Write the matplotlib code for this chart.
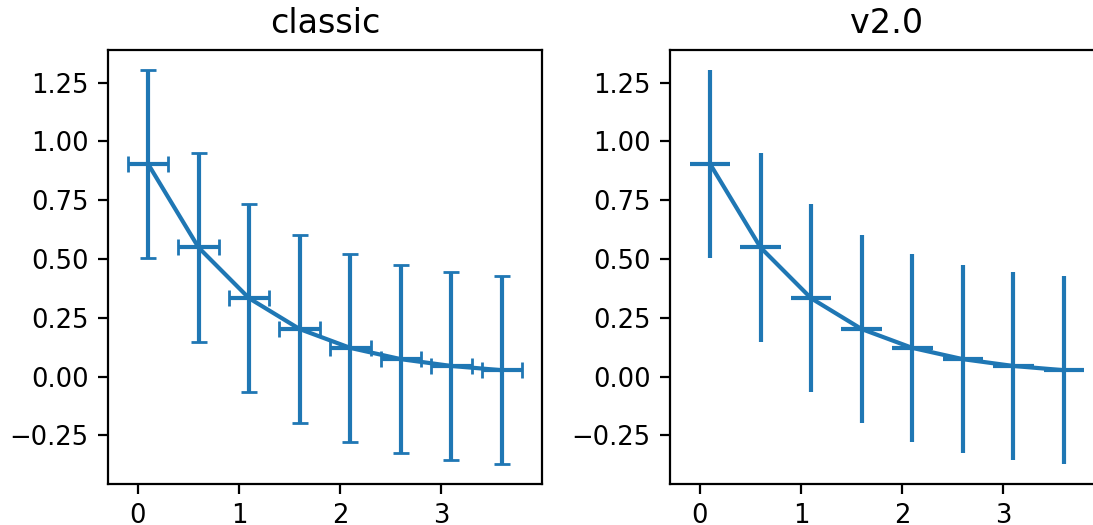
import matplotlib
matplotlib.use('Agg')
import matplotlib.pyplot as plt

# data points
x = [0.1, 0.6, 1.1, 1.6, 2.1, 2.6, 3.1, 3.6]
y = [0.905, 0.549, 0.333, 0.202, 0.122, 0.074, 0.045, 0.027]
xerr = [0.2, 0.2, 0.2, 0.2, 0.2, 0.2, 0.2, 0.2]
yerr = [0.4, 0.4, 0.4, 0.4, 0.4, 0.4, 0.4, 0.4]

titles = ['classic', 'v2.0']
capsizes = [3, 0]


def main():
    fig = plt.figure(figsize=(1093 / 200, 525 / 200), dpi=200)
    lefts = [108 / 1093, 670 / 1093]
    for left, title, cap in zip(lefts, titles, capsizes):
        ax = fig.add_axes([left, 41 / 525, 434 / 1093, 434 / 525])
        ax.errorbar(x, y, xerr=xerr, yerr=yerr, capsize=cap, color='#1f77b4')
        ax.set_title(title, fontsize=12)
        ax.set_xticks([0, 1, 2, 3])
        ax.set_yticks([-0.25, 0, 0.25, 0.5, 0.75, 1.0, 1.25])
        ax.tick_params(labelsize=9.3)

    fig.savefig('out.png', dpi=200)


if __name__ == "__main__":
    main()
